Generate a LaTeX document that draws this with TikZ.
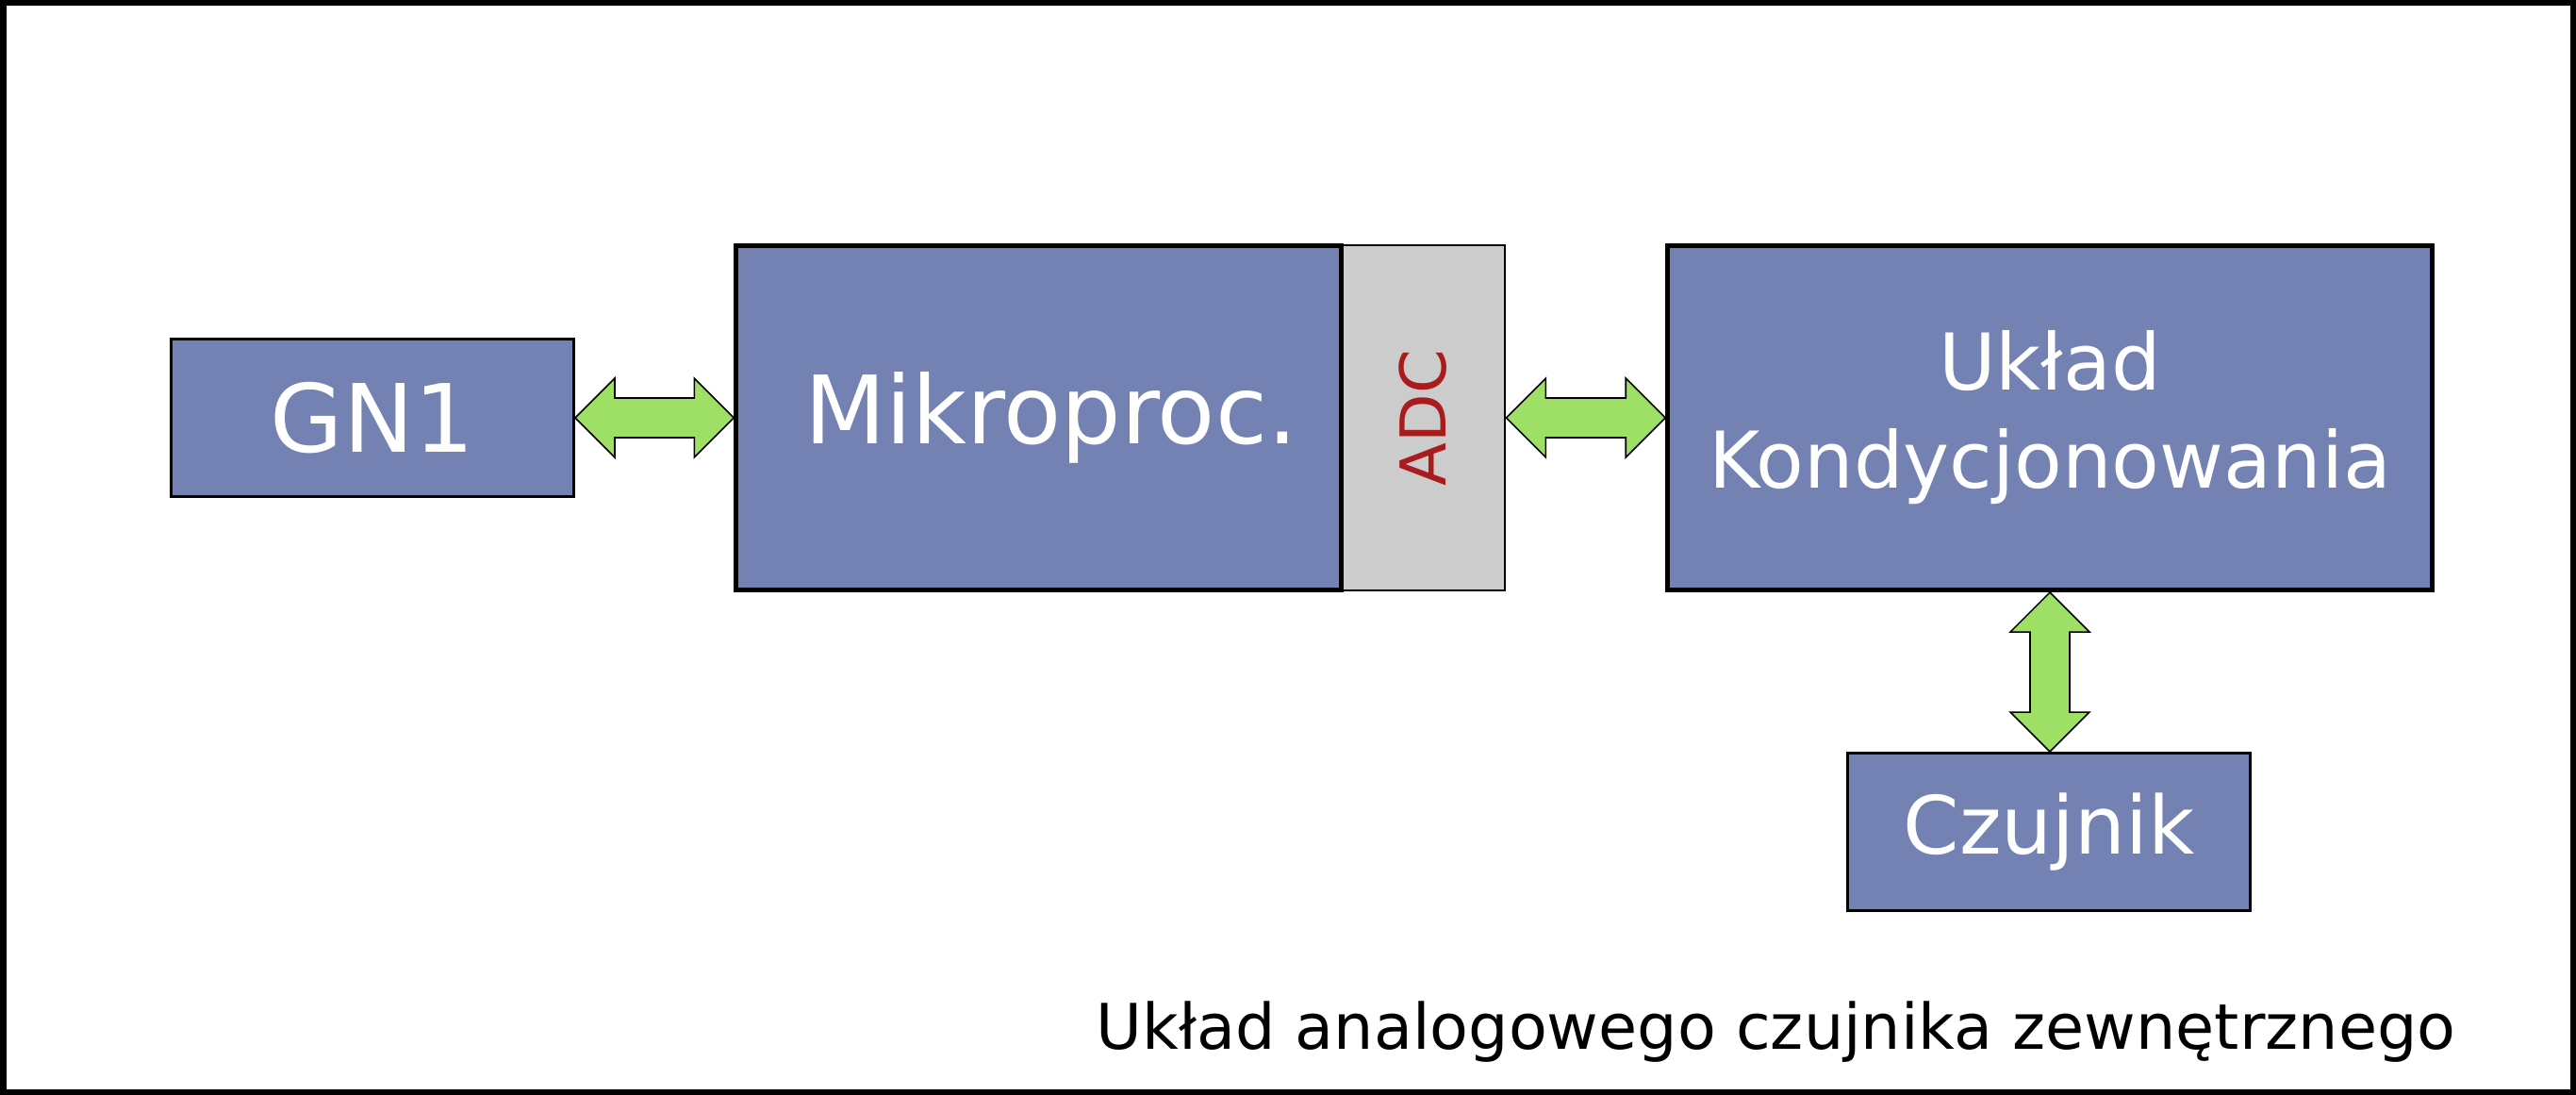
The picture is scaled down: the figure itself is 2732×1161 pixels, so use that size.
\documentclass[tikz,border=0pt]{standalone}
\usepackage{fontspec}
\setmainfont{DejaVu Sans}
\usetikzlibrary{calc}
\definecolor{boxblue}{RGB}{115,130,178}
\definecolor{arrgreen}{RGB}{158,224,102}
\definecolor{adcgray}{RGB}{204,204,204}
\definecolor{adcred}{RGB}{169,28,30}
\newcommand\harr[2]{\path[arrowshape] let \p1=(#1), \p2=(#2) in
  (\x1,\y1) -- (\x1+0.42cm,\y1+0.42cm) -- (\x1+0.42cm,\y1+0.21cm) -- (\x2-0.42cm,\y1+0.21cm)
  -- (\x2-0.42cm,\y1+0.42cm) -- (\x2,\y1) -- (\x2-0.42cm,\y1-0.42cm) -- (\x2-0.42cm,\y1-0.21cm)
  -- (\x1+0.42cm,\y1-0.21cm) -- (\x1+0.42cm,\y1-0.42cm) -- cycle;}
\newcommand\varr[2]{\path[arrowshape] let \p1=(#1), \p2=(#2) in
  (\x1,\y1) -- (\x1+0.42cm,\y1-0.42cm) -- (\x1+0.21cm,\y1-0.42cm) -- (\x1+0.21cm,\y2+0.42cm)
  -- (\x1+0.42cm,\y2+0.42cm) -- (\x1,\y2) -- (\x1-0.42cm,\y2+0.42cm) -- (\x1-0.21cm,\y2+0.42cm)
  -- (\x1-0.21cm,\y1-0.42cm) -- (\x1-0.42cm,\y1-0.42cm) -- cycle;}
\tikzset{
  thinbox/.style={draw=black, fill=boxblue, line width=0.77pt, inner sep=0pt, text=white},
  thickbox/.style={draw=black, fill=boxblue, line width=1.42pt, inner sep=0pt, text=white},
  arrowshape/.style={fill=arrgreen, draw=black, line width=0.45pt, line join=miter},
  bigfont/.style={font=\fontsize{28.45pt}{34pt}\selectfont},
  midfont/.style={font=\fontsize{23.6pt}{29.6pt}\selectfont},
  czfont/.style={font=\fontsize{24.2pt}{29pt}\selectfont},
}
\begin{document}
\begin{tikzpicture}[x=0.01cm, y=-0.01cm]
\useasboundingbox (0,0) rectangle (2732,1161);
\draw[line width=1.85pt, fill=white] (3.25,3.25) rectangle (2728.75,1157.75);

\node[thinbox, bigfont, minimum width=4.27cm, minimum height=1.67cm] (gn) at (395,443) {GN1};

\node[draw=black, fill=adcgray, line width=0.77pt, inner sep=0pt, minimum width=1.74cm, minimum height=3.66cm] (adc) at (1509,443) {};
\node[thickbox, minimum width=6.41cm, minimum height=3.65cm] (mp) at (1101.5,443) {};
\node[bigfont, text=white, inner sep=0pt] (mptext) at ([xshift=0.13cm]mp.center) {Mikroproc.};
\node[rotate=90, text=adcred, inner sep=0pt, font=\fontsize{19.06pt}{23pt}\selectfont] (adctext) at (adc.center) {ADC};

\node[thickbox, midfont, align=center, minimum width=8.10cm, minimum height=3.65cm] (kond) at (2174,443) {Układ\\Kondycjonowania};

\node[thinbox, czfont, minimum width=4.27cm, minimum height=1.67cm] (cz) at (2173,882) {Czujnik};

\harr{gn.east}{mp.west}
\harr{adc.east}{kond.west}
\varr{kond.south}{cz.north}

\node[anchor=base west, inner sep=0pt, font=\fontsize{19.0pt}{23pt}\selectfont] (cap) at (1162,1112) {Układ analogowego czujnika zewnętrznego};
\end{tikzpicture}
\end{document}
